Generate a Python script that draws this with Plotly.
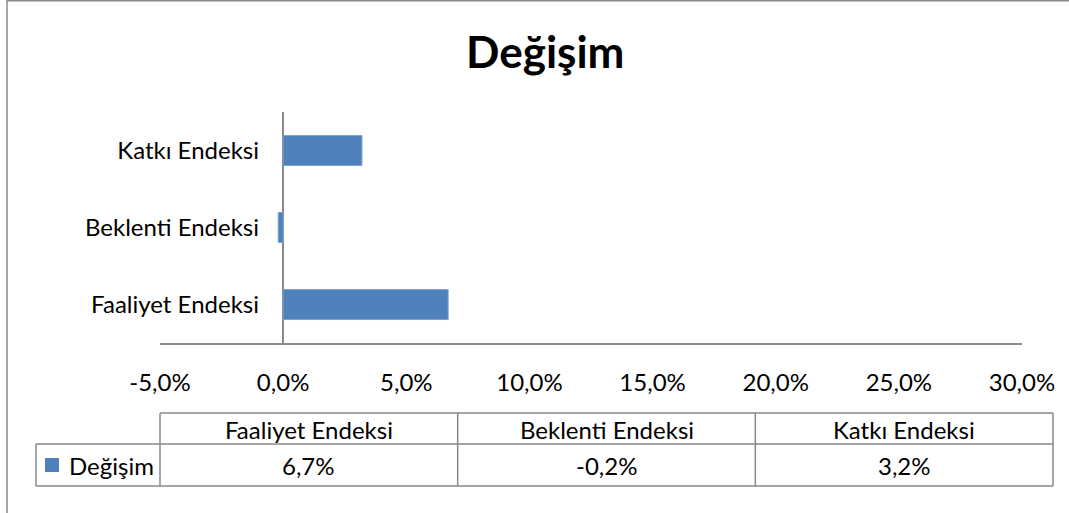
import plotly.graph_objects as go

# ---- data ----
categories = ["Faaliyet Endeksi", "Beklenti Endeksi", "Katkı Endeksi"]
values = [6.7, -0.2, 3.2]
series_name = "Değişim"
chart_title = "Değişim"
tick_vals = [-5, 0, 5, 10, 15, 20, 25, 30]
tick_text = ["-5,0%", "0,0%", "5,0%", "10,0%", "15,0%", "20,0%", "25,0%", "30,0%"]

# ---- layout geometry (pixels) ----
W, H = 1069, 513
PL, PR, PT, PB = 160, 1022, 112, 343
FONT = "Lato"
GRAY = "#898989"
BLUE = "#4F81BD"
FS = 24


def fx(px):
    return (px - PL) / (PR - PL)


def fy(py):
    return (PB - py) / (PB - PT)


fig = go.Figure()
fig.add_trace(go.Bar(
    y=categories, x=values, orientation="h", width=0.39,
    marker=dict(color=BLUE, line=dict(color="#7FA2CE", width=1)),
    name=series_name, showlegend=False, hoverinfo="skip",
))

shapes = []
annotations = []

# outer chart border (left and top edges visible)
shapes.append(dict(type="line", xref="paper", yref="paper",
                   x0=fx(7), x1=fx(7), y0=fy(0), y1=fy(H + 5),
                   line=dict(color=GRAY, width=1.5)))
shapes.append(dict(type="line", xref="paper", yref="paper",
                   x0=fx(7), x1=fx(W + 5), y0=fy(0.75), y1=fy(0.75),
                   line=dict(color=GRAY, width=1.5)))

# title
annotations.append(dict(text="<b>%s</b>" % chart_title, xref="paper", yref="paper",
                        x=fx(545), y=fy(51), xanchor="center", yanchor="middle",
                        showarrow=False, font=dict(family=FONT, size=44, color="black")))

# data table
tbl_left, tbl_right = 160, 1053
leg_left = 36
r0, r1, r2 = 413, 444, 486
col_w = (tbl_right - tbl_left) / len(categories)
tline = dict(color=GRAY, width=1.5)

shapes.append(dict(type="line", xref="paper", yref="paper", x0=fx(tbl_left), x1=fx(tbl_right),
                   y0=fy(r0), y1=fy(r0), line=tline))
shapes.append(dict(type="line", xref="paper", yref="paper", x0=fx(leg_left), x1=fx(tbl_right),
                   y0=fy(r1), y1=fy(r1), line=tline))
shapes.append(dict(type="line", xref="paper", yref="paper", x0=fx(leg_left), x1=fx(tbl_right),
                   y0=fy(r2), y1=fy(r2), line=tline))
shapes.append(dict(type="line", xref="paper", yref="paper", x0=fx(leg_left), x1=fx(leg_left),
                   y0=fy(r1), y1=fy(r2), line=tline))
for i in range(len(categories) + 1):
    xx = tbl_left + i * col_w
    shapes.append(dict(type="line", xref="paper", yref="paper", x0=fx(xx), x1=fx(xx),
                       y0=fy(r0), y1=fy(r2), line=tline))

for i, (cat, v) in enumerate(zip(categories, values)):
    cx = tbl_left + (i + 0.5) * col_w
    annotations.append(dict(text=cat, xref="paper", yref="paper", x=fx(cx), y=fy((r0 + r1) / 2 + 1),
                            xanchor="center", yanchor="middle", showarrow=False,
                            font=dict(family=FONT, size=FS, color="black")))
    annotations.append(dict(text=("%.1f%%" % v).replace(".", ","), xref="paper", yref="paper",
                            x=fx(cx), y=fy((r1 + r2) / 2 + 1), xanchor="center", yanchor="middle",
                            showarrow=False, font=dict(family=FONT, size=FS, color="black")))

# legend key in table
shapes.append(dict(type="rect", xref="paper", yref="paper", x0=fx(45), x1=fx(59),
                   y0=fy(458), y1=fy(472), fillcolor=BLUE, line=dict(width=0)))
annotations.append(dict(text=series_name, xref="paper", yref="paper", x=fx(67), y=fy((r1 + r2) / 2 + 1),
                        xanchor="left", yanchor="middle", showarrow=False,
                        font=dict(family=FONT, size=FS, color="black")))

fig.update_layout(
    width=W, height=H,
    margin=dict(l=PL, r=W - PR, t=PT, b=H - PB, autoexpand=False),
    paper_bgcolor="white", plot_bgcolor="white",
    showlegend=False, hovermode=False,
    shapes=shapes, annotations=annotations,
    xaxis=dict(range=[-5, 30], tickvals=tick_vals, ticktext=tick_text,
               showgrid=False, zeroline=True, zerolinecolor=GRAY, zerolinewidth=1.5,
               showline=True, linecolor=GRAY, linewidth=1.5, ticks="",
               ticklabelstandoff=17, automargin=False,
               tickfont=dict(family=FONT, size=FS, color="black"), fixedrange=True),
    yaxis=dict(range=[-0.5, 2.5], showgrid=False, zeroline=False, showline=False,
               anchor="free", position=fx(283), ticks="", ticklabelstandoff=24,
               automargin=False, tickfont=dict(family=FONT, size=FS, color="black"),
               fixedrange=True),
)

fig.write_html("out.html", config={"displayModeBar": False},
               post_script="document.body.style.margin='0';")
